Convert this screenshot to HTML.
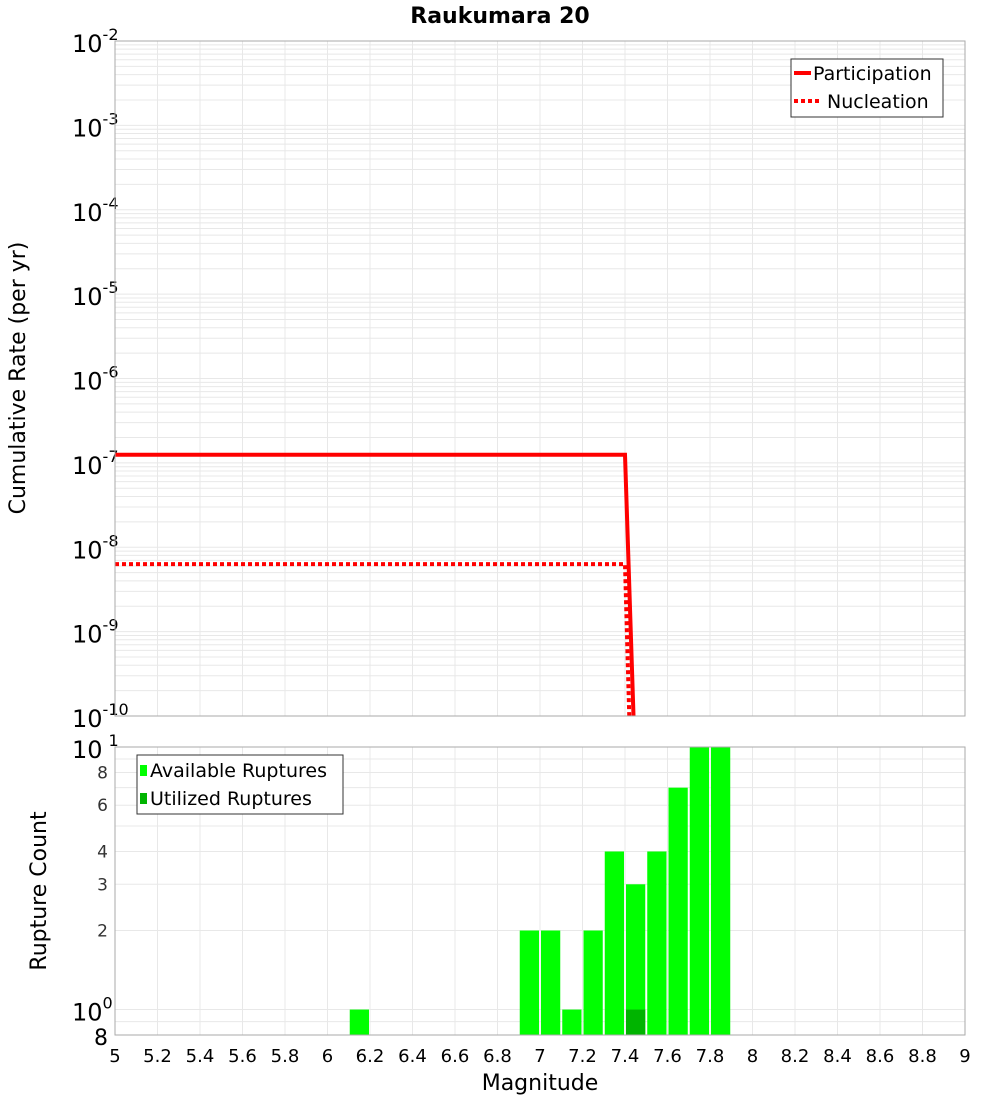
<!DOCTYPE html>
<html><head><meta charset="utf-8"><style>
body{margin:0;background:#fff;}
svg{display:block;font-family:"DejaVu Sans","Liberation Sans",sans-serif;}
</style></head><body>
<svg id="c" width="1000" height="1100" xmlns="http://www.w3.org/2000/svg"></svg>
<script>
const partMag=[5.0,7.4,7.44];
const partRate=[1.25e-7,1.25e-7,1e-10];
const nuclMag=[5.0,7.4,7.42];
const nuclRate=[6.3e-9,6.3e-9,1e-10];
const binCenters=[6.15,6.95,7.05,7.15,7.25,7.35,7.45,7.55,7.65,7.75,7.85];
const availCounts=[1,2,2,1,2,4,3,4,7,10,10];
const usedCounts=[0,0,0,0,0,0,1,0,0,0,0];
const xTicks=[5,5.2,5.4,5.6,5.8,6,6.2,6.4,6.6,6.8,7,7.2,7.4,7.6,7.8,8,8.2,8.4,8.6,8.8,9];
const topExps=[-2,-3,-4,-5,-6,-7,-8,-9,-10];
const botTicks=[2,3,4,6,8];

const NS="http://www.w3.org/2000/svg";
const svg=document.getElementById('c');
function el(t,a,p){const e=document.createElementNS(NS,t);for(const k in a)e.setAttribute(k,a[k]);(p||svg).appendChild(e);return e;}
const X0=115,X1=965;
const x=m=>X0+(m-5)/4*(X1-X0);
const T0=41,T1=716;
const yT=v=>T0+(-2-Math.log10(v))/8*(T1-T0);
const B0=747,B1=1035;
const yB=v=>B1-(Math.log10(v)-Math.log10(0.8))/(1-Math.log10(0.8))*(B1-B0);

// title
let t=el('text',{x:500,y:23,'text-anchor':'middle','font-size':22,'font-weight':'bold'});t.textContent='Raukumara 20';


// top grid
const gTop=el('g',{});
for(let e=-10;e<-2;e++)for(let k=1;k<10;k++){const yy=yT(k*Math.pow(10,e));el('line',{x1:X0,x2:X1,y1:yy,y2:yy,stroke:'#e8e8e8','stroke-width':1},gTop);}
xTicks.forEach(m=>{el('line',{x1:x(m),x2:x(m),y1:T0,y2:T1,stroke:'#e8e8e8'},gTop);el('line',{x1:x(m),x2:x(m),y1:B0,y2:B1,stroke:'#e8e8e8'},gTop);});
for(let k=1;k<=10;k++){const yy=yB(k);el('line',{x1:X0,x2:X1,y1:yy,y2:yy,stroke:'#e8e8e8'},gTop);}
el('line',{x1:X0,x2:X1,y1:yB(0.9),y2:yB(0.9),stroke:'#e8e8e8'},gTop);

// top ticks
topExps.forEach(e=>{const yy=yT(Math.pow(10,e));const tx=el('text',{x:72,y:yy+11,'font-size':24});
tx.innerHTML='10<tspan dy="-12" font-size="16">'+e+'</tspan>';
});
t=el('text',{x:0,y:0,'font-size':22,'text-anchor':'middle',transform:'translate(25,378) rotate(-90)'});t.textContent='Cumulative Rate (per yr)';


// series
function line(ms,rs,dash,name){const p=el('polyline',{points:ms.map((m,i)=>x(m)+','+yT(rs[i])).join(' '),fill:'none',stroke:'#ff0000','stroke-width':4});
if(dash)p.setAttribute('stroke-dasharray','4,3');}
line(partMag,partRate,false,'participation-line');
line(nuclMag,nuclRate,true,'nucleation-line');
el('rect',{x:X0,y:T0,width:X1-X0,height:T1-T0,fill:'none',stroke:'#aaa'});

// top legend
const lg=el('g',{});
el('rect',{x:791,y:59,width:152,height:58,fill:'#fff',stroke:'#333'},lg);
el('line',{x1:794,x2:811,y1:73,y2:73,stroke:'#f00','stroke-width':4},lg);
t=el('text',{x:813,y:80,'font-size':19},lg);t.textContent='Participation';
el('line',{x1:794,x2:822,y1:101,y2:101,stroke:'#f00','stroke-width':4,'stroke-dasharray':'4,3'},lg);
t=el('text',{x:827,y:108,'font-size':19},lg);t.textContent='Nucleation';

// bars
binCenters.forEach((c,i)=>{const r=el('rect',{x:x(c-0.05)+1,y:yB(availCounts[i]),width:x(c+0.05)-x(c-0.05)-2,height:B1-yB(availCounts[i]),fill:'#00ff00'});

if(usedCounts[i]>0){const u=el('rect',{x:x(c-0.05)+1,y:yB(usedCounts[i]),width:x(c+0.05)-x(c-0.05)-2,height:B1-yB(usedCounts[i]),fill:'#00b400'});
}});
el('rect',{x:X0,y:B0,width:X1-X0,height:B1-B0,fill:'none',stroke:'#aaa'});

// bottom ticks
t=el('text',{x:72,y:yB(10)+11,'font-size':24});t.innerHTML='10<tspan dx="6" dy="-12" font-size="16">1</tspan>';
t=el('text',{x:72,y:yB(1)+11,'font-size':24});t.innerHTML='10<tspan dy="-12" font-size="16">0</tspan>';
t=el('text',{x:94,y:B1+10,'font-size':22});t.textContent='8';
botTicks.forEach(v=>{const tx=el('text',{x:108,y:yB(v)+6,'font-size':17,'text-anchor':'end',fill:'#333'});tx.textContent=v;
});
t=el('text',{x:0,y:0,'font-size':22,'text-anchor':'middle',transform:'translate(46,891) rotate(-90)'});t.textContent='Rupture Count';

xTicks.forEach(m=>{const tx=el('text',{x:x(m),y:1062,'font-size':18,'text-anchor':'middle'});tx.textContent=String(m);
});
t=el('text',{x:540,y:1090,'font-size':22,'text-anchor':'middle'});t.textContent='Magnitude';


// bottom legend
const lb=el('g',{});
el('rect',{x:137,y:755,width:206,height:59,fill:'#fff',stroke:'#333'},lb);
el('rect',{x:140,y:765,width:7,height:11,fill:'#00ff00'},lb);
t=el('text',{x:150,y:777,'font-size':19},lb);t.textContent='Available Ruptures';
el('rect',{x:140,y:793,width:7,height:11,fill:'#00b400'},lb);
t=el('text',{x:150,y:805,'font-size':19},lb);t.textContent='Utilized Ruptures';
</script>
</body></html>
